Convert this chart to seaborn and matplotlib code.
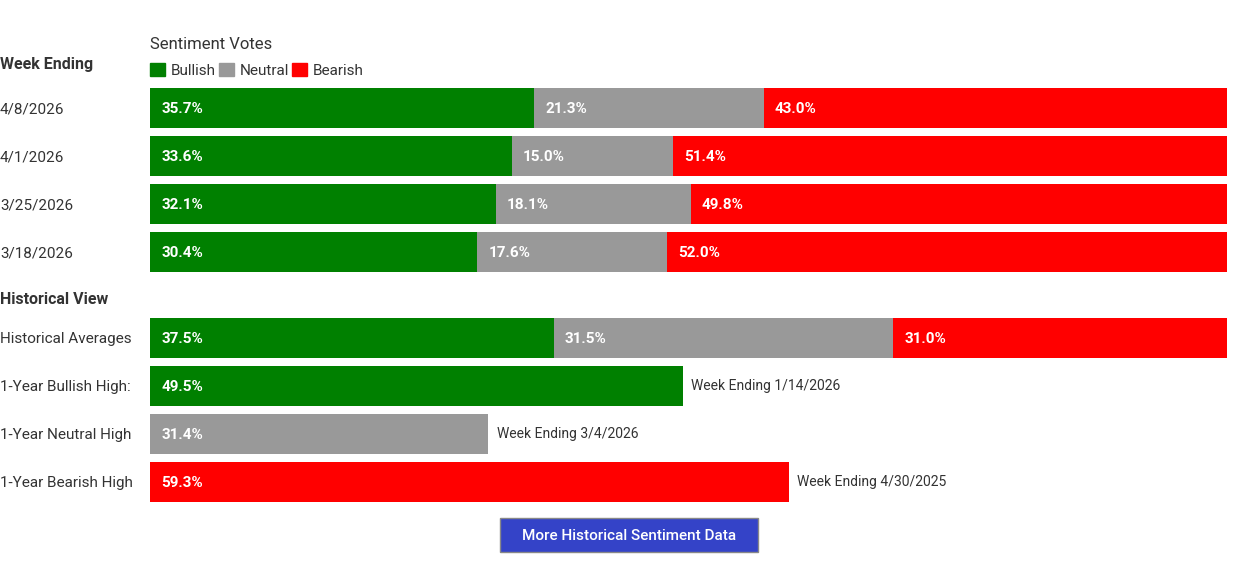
import matplotlib
matplotlib.use("Agg")
import matplotlib.pyplot as plt
from matplotlib.patches import Patch, Rectangle
import seaborn as sns

# data
weeks = ["4/8/2026", "4/1/2026", "3/25/2026", "3/18/2026"]
week_bull = [35.7, 33.6, 32.1, 30.4]
week_neutral = [21.3, 15.0, 18.1, 17.6]
week_bear = [43.0, 51.4, 49.8, 52.0]

hist_rows = ["Historical Averages", "1-Year Bullish High:", "1-Year Neutral High", "1-Year Bearish High"]
hist_bull = [37.5, 49.5, 0, 0]
hist_neutral = [31.5, 0, 31.4, 0]
hist_bear = [31.0, 0, 0, 59.3]
hist_notes = ["", "Week Ending 1/14/2026", "Week Ending 3/4/2026", "Week Ending 4/30/2025"]

GREEN, GRAY, RED = "#008000", "#999999", "#ff0000"
TXT = "#333333"

sns.set_style("white")
plt.rcParams["font.family"] = ["Roboto", "DejaVu Sans"]

W, H = 1260, 569
fig = plt.figure(figsize=(W / 100, H / 100), dpi=100)


def px_axes(x0, y0, x1, y1):
    return fig.add_axes([x0 / W, 1 - y1 / H, (x1 - x0) / W, (y1 - y0) / H])


def stacked(ax, labels, bull, neu, bear, notes=None):
    total = [b + n + r for b, n, r in zip(bull, neu, bear)]
    mid = [b + n for b, n in zip(bull, neu)]
    for vals, col in [(total, RED), (mid, GRAY), (bull, GREEN)]:
        sns.barplot(x=vals, y=labels, color=col, width=0.833, saturation=1,
                    orient="y", ax=ax, errorbar=None, linewidth=0)
    for i in range(len(labels)):
        for left, val in [(0, bull[i]), (bull[i], neu[i]), (mid[i], bear[i])]:
            if val > 0:
                ax.annotate(f"{val:.1f}%", xy=(left, i), xytext=(8, -1),
                            textcoords="offset points", ha="left", va="center",
                            color="white", fontsize=11, fontweight="bold")
        if notes and notes[i]:
            ax.annotate(notes[i], xy=(total[i], i), xytext=(6, 0),
                        textcoords="offset points", ha="left", va="center",
                        color=TXT, fontsize=10)
    ax.set_xlim(0, 100)
    ax.set_ylim(len(labels) - 0.5, -0.5)
    ax.set_xticks([])
    ax.set_xlabel("")
    ax.set_ylabel("")
    ax.tick_params(axis="y", length=0, pad=108, labelsize=11, labelcolor=TXT)
    for t in ax.get_yticklabels():
        t.set_horizontalalignment("left")
    sns.despine(ax=ax, left=True, bottom=True)


ax1 = px_axes(150, 84, 1227, 276)
stacked(ax1, weeks, week_bull, week_neutral, week_bear)

ax2 = px_axes(150, 314, 1227, 506)
stacked(ax2, hist_rows, hist_bull, hist_neutral, hist_bear, hist_notes)

# section headings
fig.text(0 / W, 1 - 64 / H, "Week Ending", fontsize=11.5, fontweight="bold",
         color=TXT, ha="left", va="center")
fig.text(0 / W, 1 - 300 / H, "Historical View", fontsize=11.5, fontweight="bold",
         color=TXT, ha="left", va="center")

# legend
handles = [Patch(color=GREEN, label="Bullish"), Patch(color=GRAY, label="Neutral"),
           Patch(color=RED, label="Bearish")]
leg = fig.legend(handles=handles, title="Sentiment Votes", ncol=3, frameon=False,
                 loc="upper left", bbox_to_anchor=(150 / W, 1 - 37 / H),
                 fontsize=11, title_fontsize=12, handlelength=1.0, handleheight=1.0,
                 handletextpad=0.35, columnspacing=0.2, borderaxespad=0, borderpad=0,
                 labelspacing=0.7)
leg._legend_box.align = "left"
leg.get_title().set_color(TXT)
for t in leg.get_texts():
    t.set_color(TXT)

# button
fig.patches.append(Rectangle((500 / W, 1 - 552 / H), 258 / W, 34 / H,
                             transform=fig.transFigure, facecolor="#3443c8",
                             edgecolor="#888888", linewidth=1))
fig.text(629 / W, 1 - 536 / H, "More Historical Sentiment Data", color="white",
         fontsize=11, ha="center", va="center", fontweight="medium")

fig.savefig("out.png", dpi=100, facecolor="white")
